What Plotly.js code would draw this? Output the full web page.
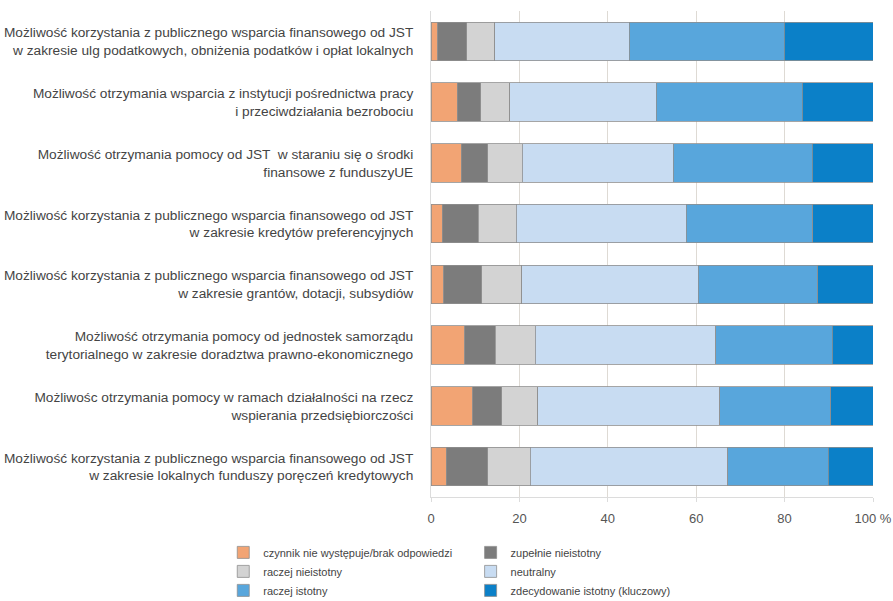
<!DOCTYPE html>
<html>
<head>
<meta charset="utf-8">
<script src="https://cdn.plot.ly/plotly-3.0.1.min.js"></script>
<style>html,body{margin:0;padding:0;background:#fff;}#chart{width:893px;height:601px;}</style>
</head>
<body>
<div id="chart"></div>
<script>
var categories = [
  "Możliwość korzystania z publicznego wsparcia finansowego od JST<br>w zakresie ulg podatkowych, obniżenia podatków i opłat lokalnych",
  "Możliwość otrzymania wsparcia z instytucji pośrednictwa pracy<br>i przeciwdziałania bezrobociu",
  "Możliwość otrzymania pomocy od JST  w staraniu się o środki<br>finansowe z funduszyUE",
  "Możliwość korzystania z publicznego wsparcia finansowego od JST<br>w zakresie kredytów preferencyjnych",
  "Możliwość korzystania z publicznego wsparcia finansowego od JST<br>w zakresie grantów, dotacji, subsydiów",
  "Możliwość otrzymania pomocy od jednostek samorządu<br>terytorialnego w zakresie doradztwa prawno-ekonomicznego",
  "Możliwośc otrzymania pomocy w ramach działalności na rzecz<br>wspierania przedsiębiorczości",
  "Możliwość korzystania z publicznego wsparcia finansowego od JST<br>w zakresie lokalnych funduszy poręczeń kredytowych"
];
var seriesNames = [
  "czynnik nie występuje/brak odpowiedzi",
  "zupełnie nieistotny",
  "raczej nieistotny",
  "neutralny",
  "raczej istotny",
  "zdecydowanie istotny (kluczowy)"
];
var brakOdp        = [1.5, 5.9, 6.8, 2.6, 2.9, 7.6, 9.4, 3.4];
var zupelnieNie    = [6.6, 5.4, 6.0, 8.1, 8.6, 6.9, 6.6, 9.4];
var raczejNie      = [6.3, 6.5, 7.8, 8.6, 9.0, 9.1, 8.2, 9.6];
var neutralny      = [30.4, 33.2, 34.2, 38.5, 40.0, 40.8, 41.1, 44.7];
var raczejIstotny  = [35.1, 33.0, 31.4, 28.6, 27.0, 26.4, 25.1, 22.8];
var zdecydowanie   = [20.1, 16.0, 13.8, 13.6, 12.5, 9.2, 9.6, 10.1];
var tickVals = [0, 20, 40, 60, 80, 100];
var tickLabels = ["0", "20", "40", "60", "80", "100 %"];

var seriesValues = [brakOdp, zupelnieNie, raczejNie, neutralny, raczejIstotny, zdecydowanie];
var colors = ["#f2a474", "#7c7c7c", "#d3d3d3", "#c8dcf2", "#58a6dc", "#0b80c8"];
var legendIds = ["legend", "legend2", "legend", "legend2", "legend", "legend2"];

var traces = seriesValues.map(function (vals, i) {
  return {
    type: "bar",
    orientation: "h",
    name: seriesNames[i],
    x: vals,
    y: categories,
    legend: legendIds[i],
    marker: { color: colors[i], line: { color: "#8e8e8e", width: 0.8 } },
    hoverinfo: "x+name"
  };
});

var legendCommon = {
  orientation: "v",
  traceorder: "normal",
  xref: "container", yref: "container",
  xanchor: "left", yanchor: "top",
  font: { family: "Liberation Sans, Arial, sans-serif", size: 11, color: "#444" },
  bgcolor: "rgba(0,0,0,0)",
  tracegroupgap: 0
};

var layout = {
  width: 893, height: 601,
  margin: { l: 431, r: 20, t: 11, b: 104, autoexpand: false },
  paper_bgcolor: "#fff", plot_bgcolor: "#fff",
  barmode: "stack",
  bargap: 0.37,
  font: { family: "Liberation Sans, Arial, sans-serif", color: "#444" },
  xaxis: {
    range: [0, 100],
    tickvals: tickVals, ticktext: tickLabels,
    showgrid: true, gridcolor: "#dedad4", gridwidth: 1,
    showline: true, linecolor: "#dcdcdc",
    zeroline: false,
    ticks: "outside", ticklen: 4, tickcolor: "#dcdcdc", tickwidth: 1,
    ticklabelstandoff: 5,
    tickfont: { size: 13, color: "#555" },
    automargin: false,
    fixedrange: true
  },
  yaxis: {
    autorange: "reversed",
    showline: true, linecolor: "#dcdcdc",
    showgrid: false,
    ticks: "", ticklabelstandoff: 14,
    tickfont: { size: 13.7, color: "#444" },
    automargin: false,
    fixedrange: true
  },
  legend: Object.assign({}, legendCommon, { x: 0.25, y: 0.105 }),
  legend2: Object.assign({}, legendCommon, { x: 0.527, y: 0.105 }),
  showlegend: true
};

Plotly.newPlot("chart", traces, layout, { displayModeBar: false, staticPlot: true });
</script>
</body>
</html>
